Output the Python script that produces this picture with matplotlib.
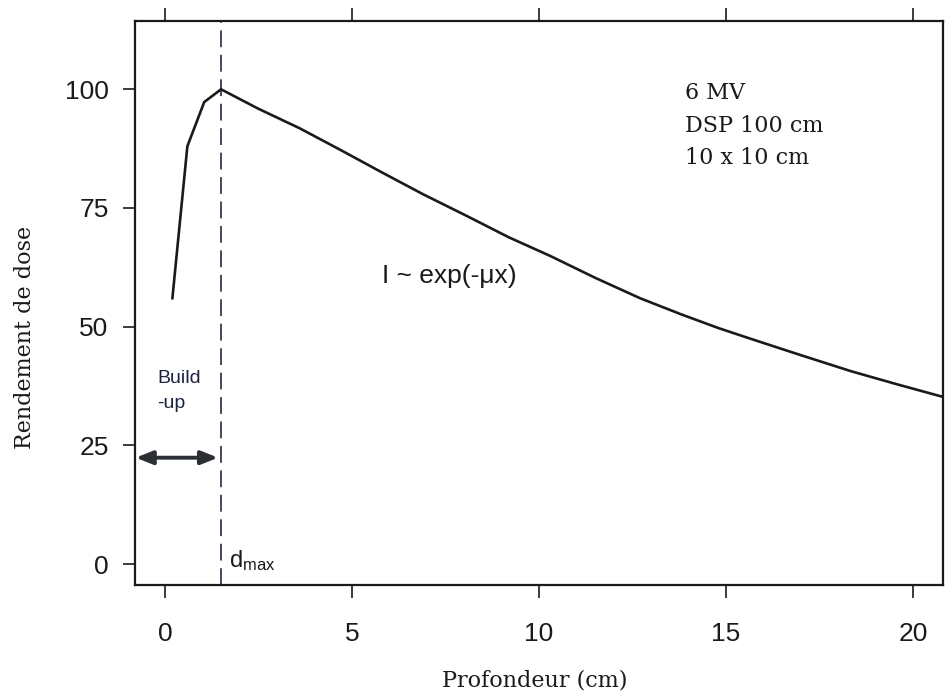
import numpy as np
import matplotlib.pyplot as plt

# profondeur (cm) et rendement de dose (%)
profondeur = [0.2, 0.6, 1.05, 1.5, 2.5, 3.6, 4.7, 5.8, 6.9, 8.05, 9.2, 10.3,
              11.5, 12.7, 13.8, 14.8, 15.6, 17.0, 18.35, 19.6, 20.85]
rendement = [56.0, 88.0, 97.3, 100.0, 95.9, 91.8, 87.2, 82.5, 77.9, 73.4, 68.8, 64.9,
             60.3, 56.0, 52.6, 49.7, 47.6, 44.0, 40.6, 37.8, 35.1]
d_max = 1.5
x_ticks = [0, 5, 10, 15, 20]
y_ticks = [0, 25, 50, 75, 100]
info_lines = ['6 MV', 'DSP 100 cm', '10 x 10 cm']

plt.rcParams['font.family'] = ['Liberation Sans', 'DejaVu Sans']
ink = '#1a1a1a'

fig = plt.figure(figsize=(9.46, 6.98), dpi=100)
ax = fig.add_axes([0.1427, 0.162, 0.8541, 0.808])

ax.plot(profondeur, rendement, color=ink, lw=1.9, solid_joinstyle='miter')
ax.axvline(d_max, color='#141a2c', lw=1.1, dashes=(11, 5))

ax.set_xlim(-0.8, 20.8)
ax.set_ylim(-4.4, 114.4)
ax.set_xticks(x_ticks)
ax.set_yticks(y_ticks)
ax.tick_params(axis='x', top=True, bottom=True, direction='out', length=9.5,
               width=1.2, pad=17, labelsize=19, colors=ink)
ax.tick_params(axis='y', left=True, right=False, direction='out', length=9,
               width=1.2, pad=10, labelsize=19, colors=ink)
for s in ax.spines.values():
    s.set_linewidth(1.6)
    s.set_color(ink)

# fleche build-up
ax.annotate('', xy=(-0.78, 22.4), xytext=(d_max - 0.08, 22.4),
            arrowprops=dict(arrowstyle='<|-|>,head_length=1.0,head_width=0.4',
                            color='#2b2f33', lw=2.8, shrinkA=0, shrinkB=0))
ax.text(-0.21, 39.1, 'Build', fontsize=14, color='#1c2340', va='center', ha='left')
ax.text(-0.21, 33.8, '-up', fontsize=14, color='#1c2340', va='center', ha='left')
ax.text(1.71, -1.8, r'$\mathregular{d_{max}}$', fontsize=17, color=ink,
        va='bottom', ha='left')

ax.text(5.79, 60.7, 'I ~ exp(-\u03bcx)', fontsize=19, color=ink, va='center', ha='left')

for i, line in enumerate(info_lines):
    ax.text(13.9, 99.2 - 6.85 * i, line, fontsize=16, family='DejaVu Serif',
            color=ink, va='center', ha='left')

fig.text(0.5655, 0.0244, 'Profondeur (cm)', fontsize=16, family='DejaVu Serif',
         color=ink, ha='center', va='center')
fig.text(0.026, 0.516, 'Rendement de dose', fontsize=16, family='DejaVu Serif',
         color=ink, ha='center', va='center', rotation=90)

fig.savefig('out.png', dpi=100)
